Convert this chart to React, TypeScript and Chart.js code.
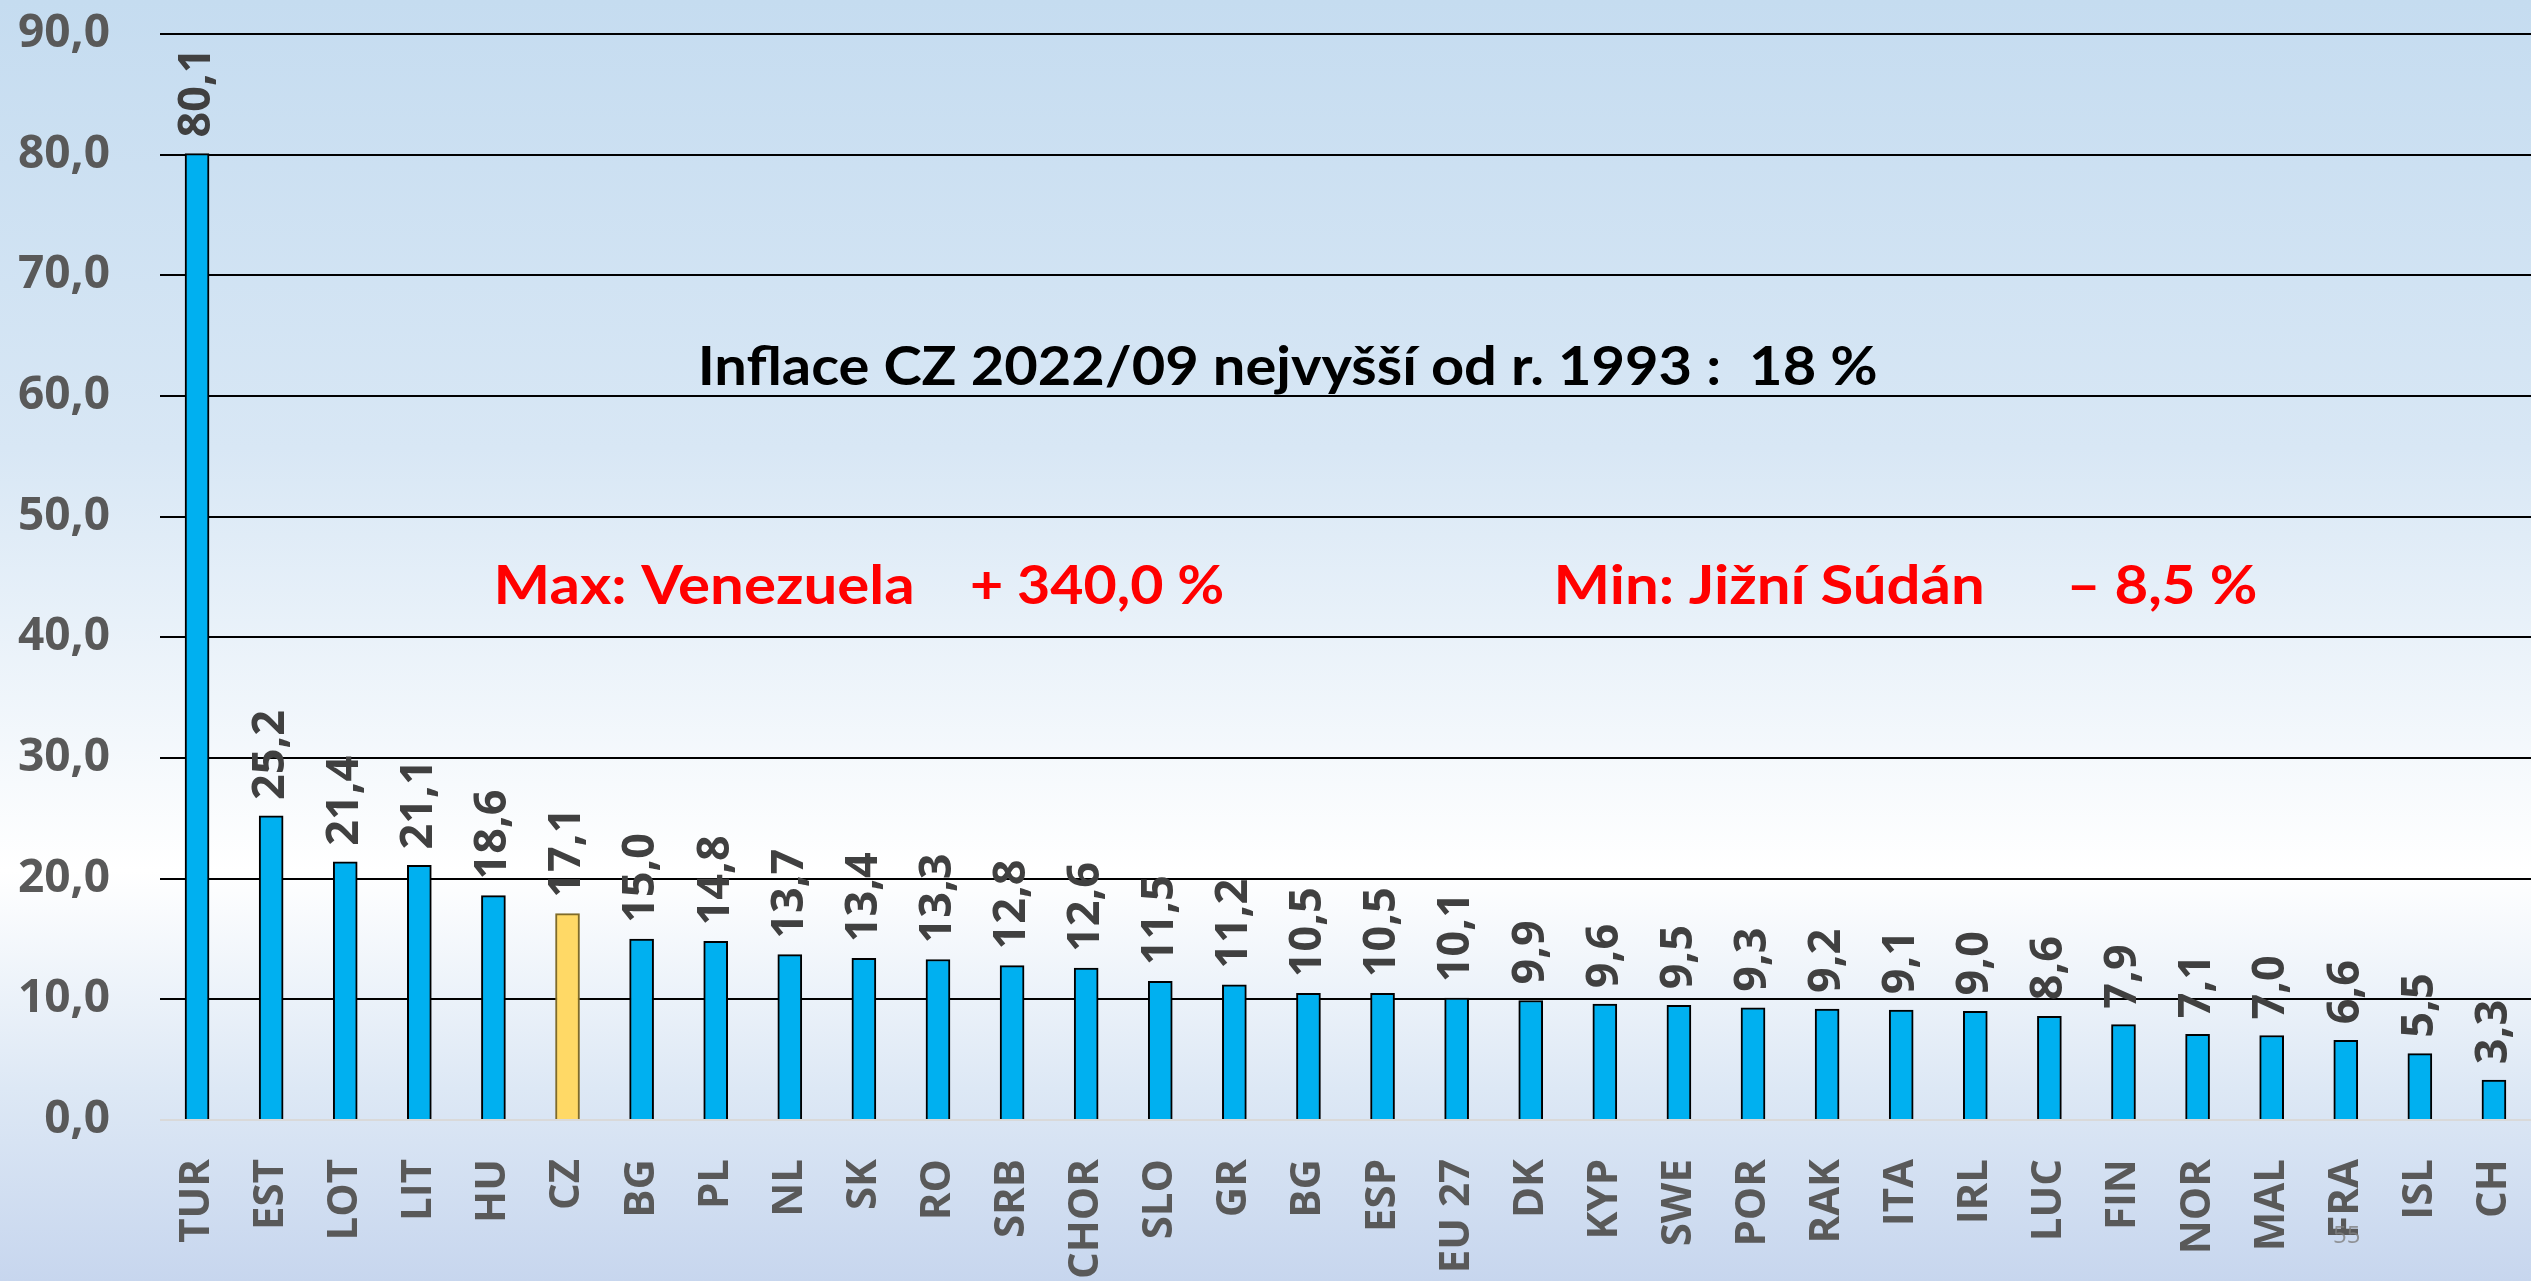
import React, { useEffect, useRef } from 'react';
import { Chart, registerables } from 'chart.js';

Chart.register(...registerables);

// ---- data ----
const categories = ['TUR', 'EST', 'LOT', 'LIT', 'HU', 'CZ', 'BG', 'PL', 'NL', 'SK', 'RO', 'SRB', 'CHOR', 'SLO', 'GR', 'BG', 'ESP', 'EU 27', 'DK', 'KYP', 'SWE', 'POR', 'RAK', 'ITA', 'IRL', 'LUC', 'FIN', 'NOR', 'MAL', 'FRA', 'ISL', 'CH'];
const inflation = [80.1, 25.2, 21.4, 21.1, 18.6, 17.1, 15.0, 14.8, 13.7, 13.4, 13.3, 12.8, 12.6, 11.5, 11.2, 10.5, 10.5, 10.1, 9.9, 9.6, 9.5, 9.3, 9.2, 9.1, 9.0, 8.6, 7.9, 7.1, 7.0, 6.6, 5.5, 3.3];
const highlightIndex = 5; // CZ
const yMin = 0;
const yMax = 90;
const yStep = 10;
const titleText = 'Inflace CZ 2022/09 nejvyšší od r. 1993 :  18 %';
const maxTexts = ['Max: Venezuela', '+ 340,0 %'];
const minTexts = ['Min: Jižní Súdán', '– 8,5 %'];
const slideNumber = '55';

const W = 2531;
const H = 1281;

const fmt = (v: number) => v.toFixed(1).replace('.', ',');

function fitText(ctx: CanvasRenderingContext2D, text: string, x0: number, x1: number, baseline: number, font: string, color: string) {
  ctx.save();
  ctx.font = font;
  ctx.fillStyle = color;
  ctx.textAlign = 'left';
  ctx.textBaseline = 'alphabetic';
  const m = ctx.measureText(text);
  const left = m.actualBoundingBoxLeft;
  const w = m.actualBoundingBoxRight + m.actualBoundingBoxLeft;
  const s = (x1 - x0) / w;
  ctx.translate(x0, baseline);
  ctx.scale(s, 1);
  ctx.fillText(text, left, 0);
  ctx.restore();
}

const bgPlugin = {
  id: 'bg',
  beforeDraw(chart: any) {
    const { ctx, width, height } = chart;
    const g = ctx.createLinearGradient(0, 0, 0, height);
    g.addColorStop(0, '#c5dcf0');
    g.addColorStop(0.35, '#d8e7f5');
    g.addColorStop(0.68, '#ffffff');
    g.addColorStop(0.85, '#dde8f5');
    g.addColorStop(1, '#c7d6ee');
    ctx.save();
    ctx.fillStyle = g;
    ctx.fillRect(0, 0, width, height);
    ctx.restore();
  },
};

const valueLabelPlugin = {
  id: 'valueLabels',
  afterDatasetsDraw(chart: any) {
    const { ctx } = chart;
    const meta = chart.getDatasetMeta(0);
    ctx.save();
    ctx.font = 'bold 45px "Open Sans"';
    ctx.fillStyle = '#404040';
    ctx.textAlign = 'left';
    ctx.textBaseline = 'middle';
    meta.data.forEach((bar: any, i: number) => {
      ctx.save();
      ctx.translate(bar.x, bar.y - 16);
      ctx.rotate(-Math.PI / 2);
      ctx.fillText(fmt(inflation[i]), 0, 0);
      ctx.restore();
    });
    ctx.restore();
  },
};

const annotationPlugin = {
  id: 'annotations',
  afterDraw(chart: any) {
    const { ctx } = chart;
    fitText(ctx, titleText, 702, 1876, 385, 'bold 53px Lato', '#000000');
    fitText(ctx, maxTexts[0], 498, 912, 604, 'bold 54px Lato', '#ff0000');
    fitText(ctx, maxTexts[1], 972, 1223, 604, 'bold 54px Lato', '#ff0000');
    fitText(ctx, minTexts[0], 1558, 1982, 604, 'bold 54px Lato', '#ff0000');
    fitText(ctx, minTexts[1], 2071, 2256, 604, 'bold 54px Lato', '#ff0000');
    ctx.save();
    ctx.font = '24px "Open Sans"';
    ctx.fillStyle = 'rgba(128,128,128,0.8)';
    ctx.textAlign = 'left';
    ctx.textBaseline = 'alphabetic';
    ctx.fillText(slideNumber, 2333, 1243);
    ctx.restore();
  },
};

export default function App() {
  const canvasRef = useRef<HTMLCanvasElement | null>(null);

  useEffect(() => {
    document.body.style.margin = '0';
    document.body.style.overflow = 'hidden';
    const canvas = canvasRef.current;
    if (!canvas) return;
    const chart = new Chart(canvas, {
      type: 'bar',
      data: {
        labels: categories,
        datasets: [
          {
            data: inflation,
            backgroundColor: inflation.map((_, i) => (i === highlightIndex ? '#ffd966' : '#00b0f0')),
            borderColor: inflation.map((_, i) => (i === highlightIndex ? '#7f6b2a' : '#000000')),
            borderWidth: 2,
            barThickness: 24,
          },
        ],
      },
      options: {
        animation: false,
        responsive: false,
        devicePixelRatio: 1,
        layout: { padding: { top: 34, right: 0, left: 0, bottom: 0 } },
        plugins: {
          legend: { display: false },
          tooltip: { enabled: false },
          title: { display: false },
        },
        scales: {
          x: {
            grid: { display: false, drawTicks: false },
            border: { display: false },
            ticks: {
              autoSkip: false,
              minRotation: 90,
              maxRotation: 90,
              padding: 39,
              color: '#595959',
              font: { family: '"Open Sans"', weight: 'bold', size: 42 },
            },
            afterFit(scale: any) {
              scale.height = 161;
              scale.paddingLeft = 0;
              scale.paddingRight = 0;
            },
          },
          y: {
            min: yMin,
            max: yMax,
            ticks: {
              stepSize: yStep,
              padding: 50,
              color: '#595959',
              font: { family: '"Open Sans"', weight: 'bold', size: 46 },
              callback: (v: any) => fmt(Number(v)),
            },
            grid: {
              drawTicks: false,
              lineWidth: 2,
              color: (c: any) => (c.tick && c.tick.value === 0 ? '#d9d9d9' : '#000000'),
            },
            border: { display: false },
            afterFit(scale: any) {
              scale.width = 160;
              scale.paddingTop = 0;
              scale.paddingBottom = 0;
            },
          },
        },
      },
      plugins: [bgPlugin, valueLabelPlugin, annotationPlugin],
    });
    return () => chart.destroy();
  }, []);

  return (
    <div style={{ width: W, height: H, overflow: 'hidden' }}>
      <canvas ref={canvasRef} width={W} height={H} style={{ width: W, height: H, display: 'block' }} />
    </div>
  );
}
